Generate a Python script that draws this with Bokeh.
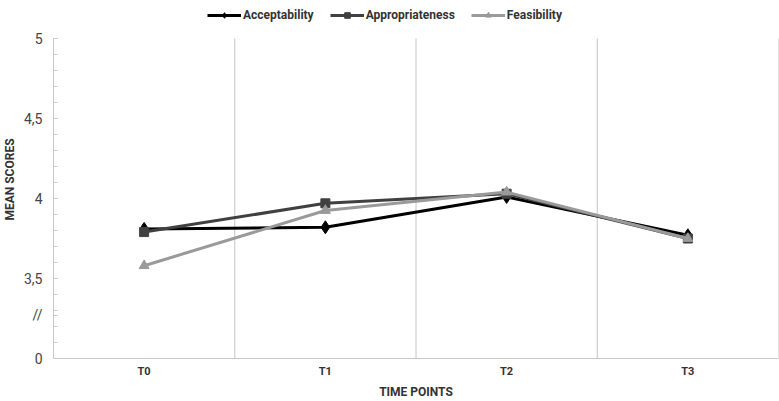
from bokeh.plotting import figure
from bokeh.models import FixedTicker, Legend, LegendItem, Range1d
from bokeh.embed import file_html
from bokeh.resources import INLINE

# Time points and mean scores per dimension
time_points = ["T0", "T1", "T2", "T3"]
acceptability = [3.81, 3.82, 4.01, 3.77]
appropriateness = [3.79, 3.97, 4.03, 3.75]
feasibility = [3.58, 3.925, 4.04, 3.75]

# Y axis: shown as a broken axis, the bottom tick stands for 0
y_ticks = [3.0, 3.27, 3.5, 4.0, 4.5, 5.0]
y_labels = ["0", "//", "3,5", "4", "4,5", "5"]

FONT = "Roboto"

xs = [i + 0.5 for i in range(len(time_points))]
bounds = [i + 1 for i in range(len(time_points))]
y_lo, y_hi = y_ticks[0], y_ticks[-1]

# the frame reaches up to the top edge so that the legend has room above
# the plotted band; the axis line and category dividers stop at its top
p = figure(width=779, height=401, output_backend="svg", toolbar_location=None,
           x_range=Range1d(0, 4), y_range=Range1d(3.0, 5.2375),
           min_border_left=52, min_border_right=1, min_border_top=0,
           min_border_bottom=41)
p.outline_line_color = None
p.background_fill_color = "white"

# category labels
p.xaxis.ticker = FixedTicker(ticks=xs)
p.xaxis.major_label_overrides = {x: t for x, t in zip(xs, time_points)}
p.xaxis.major_tick_in = 0
p.xaxis.major_tick_out = 0
p.xaxis.minor_tick_line_color = None
p.xaxis.axis_line_color = "#c8c8c8"
p.xaxis.major_label_text_font = FONT
p.xaxis.major_label_text_font_style = "bold"
p.xaxis.major_label_text_font_size = "11px"
p.xaxis.major_label_text_color = "#333333"
p.xaxis.major_label_standoff = 6
p.xaxis.axis_label = "TIME POINTS"
p.xaxis.axis_label_text_font = FONT
p.xaxis.axis_label_text_font_style = "bold"
p.xaxis.axis_label_text_font_size = "12px"
p.xaxis.axis_label_text_color = "#333333"
p.xaxis.axis_label_standoff = 4

p.yaxis.bounds = (y_lo, y_hi)
p.yaxis.ticker = FixedTicker(ticks=y_ticks,
                             minor_ticks=[3 + 0.1 * k for k in range(21)])
p.yaxis.major_label_overrides = {t: l for t, l in zip(y_ticks, y_labels)}
p.yaxis.major_tick_in = 4
p.yaxis.major_tick_out = 0
p.yaxis.minor_tick_in = 4
p.yaxis.minor_tick_out = 0
p.yaxis.major_tick_line_color = "#c8c8c8"
p.yaxis.minor_tick_line_color = "#c8c8c8"
p.yaxis.axis_line_color = "#c8c8c8"
p.yaxis.major_label_text_font = FONT
p.yaxis.major_label_text_font_size = "14px"
p.yaxis.major_label_text_color = "#444444"
p.yaxis.major_label_standoff = 11
p.yaxis.axis_label = "MEAN SCORES"
p.yaxis.axis_label_text_font = FONT
p.yaxis.axis_label_text_font_style = "bold"
p.yaxis.axis_label_text_font_size = "12px"
p.yaxis.axis_label_text_color = "#333333"
p.yaxis.axis_label_standoff = 4

p.ygrid.grid_line_color = None
p.xgrid.grid_line_color = None

# vertical dividers between the time points
p.segment(x0=bounds, y0=[y_lo] * len(bounds), x1=bounds, y1=[y_hi] * len(bounds),
          line_color="#c4c4c4", line_width=1)

series = [
    ("Acceptability", acceptability, "#000000", "diamond", 13),
    ("Appropriateness", appropriateness, "#404040", "square", 9),
    ("Feasibility", feasibility, "#9a9a9a", "triangle", 10),
]

items = []
for name, vals, color, marker, size in series:
    ln = p.line(xs, vals, line_color=color, line_width=3)
    sc = p.scatter(xs, vals, marker=marker, size=size, fill_color=color,
                   line_color=color)
    items.append(LegendItem(label=name, renderers=[ln, sc]))

legend = Legend(items=items, orientation="horizontal", location=(154, 336),
                label_text_font=FONT, label_text_font_style="bold",
                label_text_font_size="12px", label_text_color="#333333",
                glyph_width=34, glyph_height=14, label_standoff=2, spacing=16,
                padding=2, margin=0, border_line_color=None,
                background_fill_alpha=0)
p.add_layout(legend, "center")

open("out.html", "w").write(file_html(p, INLINE))
